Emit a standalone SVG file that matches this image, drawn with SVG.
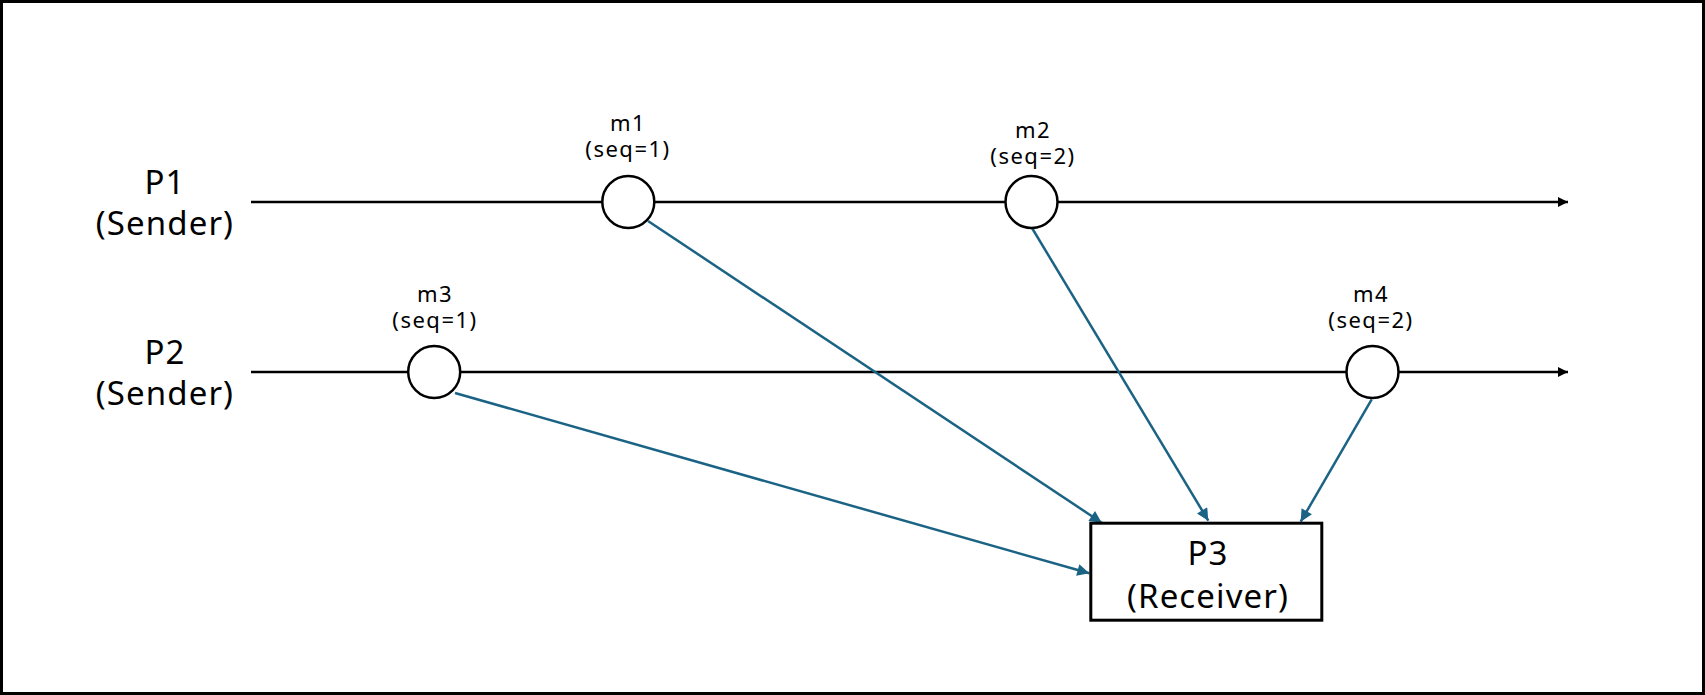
<svg xmlns="http://www.w3.org/2000/svg" width="1705" height="695" viewBox="0 0 1705 695">
<style>
.t{font-family:"Noto Sans","Liberation Sans",sans-serif;fill:#000;text-anchor:middle}
.big{font-size:33px;letter-spacing:1.1px}
.sm{font-size:22px;letter-spacing:1.5px}
.tl{stroke:#000;stroke-width:2.5;fill:none}
.ev{fill:#fff;stroke:#000;stroke-width:2.5}
.msg{stroke:#1b6384;stroke-width:2.5;fill:none}
</style>
<defs>
<marker id="ab" viewBox="0 0 10 10" refX="10" refY="5" markerWidth="13" markerHeight="10" markerUnits="userSpaceOnUse" orient="auto"><path d="M0,0L10,5L0,10z" fill="#000"/></marker>
<marker id="am" viewBox="0 0 10 10" refX="10" refY="5" markerWidth="15" markerHeight="12" markerUnits="userSpaceOnUse" orient="auto"><path d="M0,0L10,5L0,10z" fill="#1b6384"/></marker>
</defs>
<rect x="1.5" y="1.5" width="1702" height="692" fill="#fff" stroke="#000" stroke-width="3"/>
<g id="timelines">
<line class="tl" x1="251" y1="202" x2="1568" y2="202" marker-end="url(#ab)"/>
<line class="tl" x1="251" y1="372" x2="1568" y2="372" marker-end="url(#ab)"/>
</g>
<g id="P1"><text class="t big" x="165" y="194">P1</text><text class="t big" x="165" y="235">(Sender)</text></g>
<g id="P2"><text class="t big" x="165" y="364">P2</text><text class="t big" x="165" y="405">(Sender)</text></g>
<g id="connectors">
<line class="msg" x1="648" y1="221" x2="1101.7" y2="522.7" marker-end="url(#am)"/>
<line class="msg" x1="1031.7" y1="227.5" x2="1208.3" y2="520.7" marker-end="url(#am)"/>
<line class="msg" x1="1371.7" y1="399.3" x2="1300.7" y2="521.7" marker-end="url(#am)"/>
<line class="msg" x1="455" y1="393" x2="1089.3" y2="573.3" marker-end="url(#am)"/>
</g>
<g id="m1"><circle class="ev" cx="628.3" cy="202" r="26"/><text class="t sm" x="628" y="131">m1</text><text class="t sm" x="628" y="157">(seq=1)</text></g>
<g id="m2"><circle class="ev" cx="1031.5" cy="202" r="26"/><text class="t sm" x="1033" y="138">m2</text><text class="t sm" x="1033" y="164">(seq=2)</text></g>
<g id="m3"><circle class="ev" cx="434.2" cy="372" r="26"/><text class="t sm" x="435" y="302">m3</text><text class="t sm" x="435" y="328">(seq=1)</text></g>
<g id="m4"><circle class="ev" cx="1372.5" cy="372" r="26"/><text class="t sm" x="1371" y="302">m4</text><text class="t sm" x="1371" y="328">(seq=2)</text></g>
<g id="P3"><rect x="1090.8" y="523.2" width="231" height="97" fill="#fff" stroke="#000" stroke-width="3"/><text class="t big" x="1208" y="565">P3</text><text class="t big" x="1208" y="608">(Receiver)</text></g>
</svg>
